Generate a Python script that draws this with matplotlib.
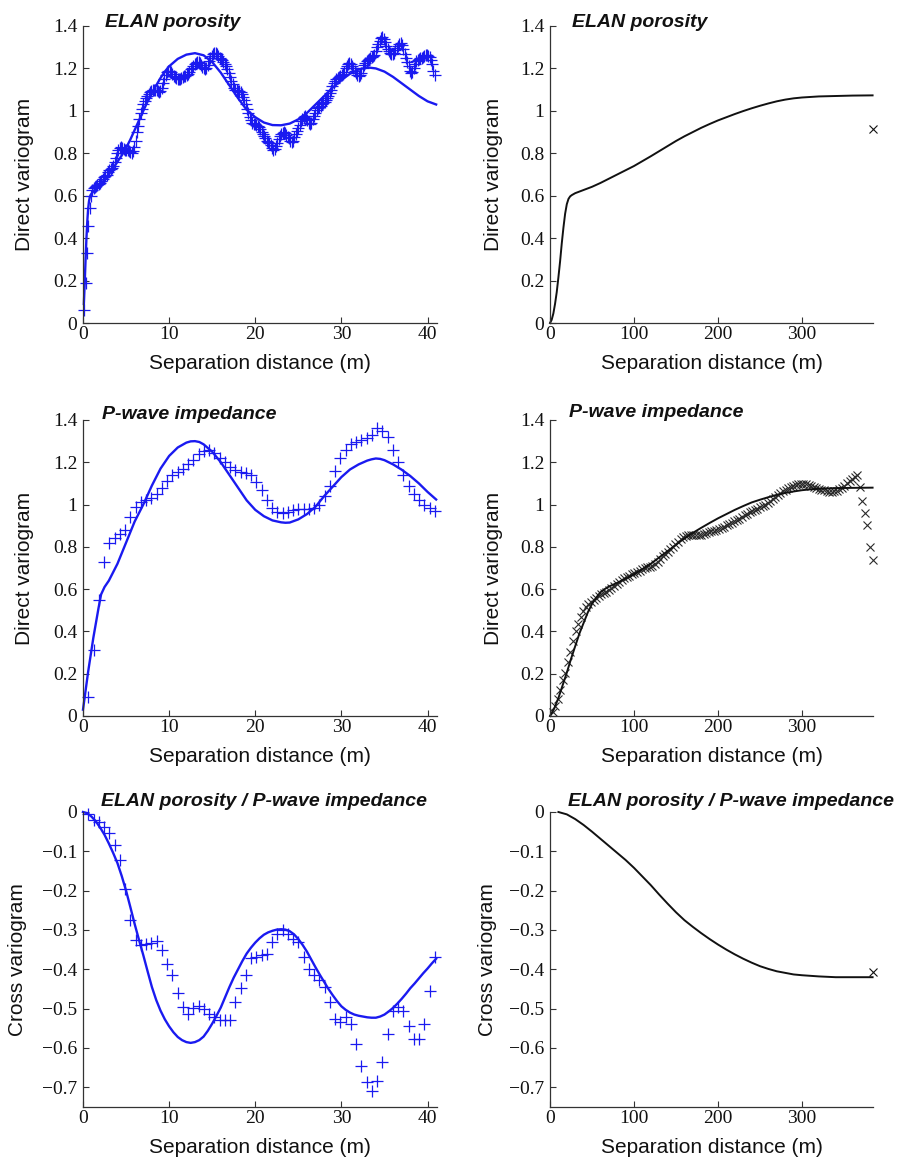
import matplotlib
matplotlib.use('Agg')
import matplotlib.pyplot as plt
import numpy as np

# ---------------- data ----------------
LAG_FINE = 0.1524     # m, ELAN porosity experimental lag (left top)
LAG_LEFT = 0.6096     # m, lag for left middle / bottom experimental points
LAG_RIGHT = 3.048     # m, lag for right column experimental points

# Panel 1: ELAN porosity, direct variogram (left)
elan_exp = [0.06, 0.19, 0.33, 0.455, 0.54, 0.60, 0.625, 0.635, 0.64, 0.645,
            0.65, 0.655, 0.66, 0.67, 0.68, 0.69, 0.695, 0.70, 0.71, 0.72,
            0.725, 0.73, 0.74, 0.76, 0.78, 0.80, 0.815, 0.825, 0.83, 0.825,
            0.82, 0.815, 0.815, 0.815, 0.81, 0.805, 0.80, 0.81, 0.83, 0.86,
            0.90, 0.93, 0.96, 0.99, 1.01, 1.03, 1.045, 1.06, 1.07, 1.08,
            1.09, 1.095, 1.10, 1.10, 1.10, 1.10, 1.095, 1.09, 1.095, 1.11,
            1.13, 1.15, 1.17, 1.185, 1.19, 1.19, 1.185, 1.175, 1.165, 1.16,
            1.155, 1.15, 1.15, 1.15, 1.155, 1.16, 1.165, 1.165, 1.17, 1.175,
            1.185, 1.195, 1.20, 1.21, 1.22, 1.225, 1.23, 1.23, 1.225, 1.215,
            1.205, 1.20, 1.195, 1.20, 1.215, 1.235, 1.25, 1.26, 1.27, 1.275,
            1.275, 1.27, 1.26, 1.25, 1.245, 1.24, 1.23, 1.22, 1.21, 1.195,
            1.18, 1.16, 1.14, 1.125, 1.11, 1.10, 1.10, 1.095, 1.095, 1.09,
            1.08, 1.065, 1.05, 1.03, 1.01, 0.99, 0.97, 0.955, 0.945, 0.94,
            0.94, 0.935, 0.93, 0.925, 0.915, 0.90, 0.89, 0.88, 0.87, 0.86,
            0.855, 0.85, 0.84, 0.825, 0.815, 0.82, 0.835, 0.85, 0.865, 0.88,
            0.89, 0.895, 0.90, 0.895, 0.885, 0.875, 0.87, 0.86, 0.855, 0.86,
            0.875, 0.89, 0.905, 0.92, 0.935, 0.95, 0.96, 0.97, 0.975, 0.965,
            0.955, 0.945, 0.94, 0.945, 0.96, 0.975, 0.99, 1.005, 1.015, 1.02,
            1.025, 1.03, 1.035, 1.04, 1.05, 1.06, 1.07, 1.085, 1.10, 1.115,
            1.13, 1.14, 1.15, 1.155, 1.16, 1.165, 1.17, 1.175, 1.185, 1.20,
            1.21, 1.22, 1.225, 1.22, 1.21, 1.20, 1.19, 1.18, 1.17, 1.165,
            1.17, 1.18, 1.20, 1.215, 1.225, 1.235, 1.24, 1.245, 1.25, 1.255,
            1.26, 1.265, 1.28, 1.30, 1.315, 1.33, 1.345, 1.35, 1.34, 1.325,
            1.305, 1.29, 1.28, 1.275, 1.27, 1.27, 1.275, 1.285, 1.295, 1.305,
            1.315, 1.32, 1.31, 1.29, 1.27, 1.25, 1.23, 1.21, 1.19, 1.18,
            1.185, 1.20, 1.22, 1.235, 1.24, 1.245, 1.25, 1.25, 1.255, 1.26,
            1.265, 1.265, 1.26, 1.255, 1.24, 1.22, 1.19, 1.17]
elan_model_x = [0.1, 0.2, 0.3, 0.4, 0.5, 0.6, 0.7, 0.8, 0.9, 1.0, 1.2, 1.5, 2, 2.5,
                3, 3.5, 4, 4.5, 5, 5.5, 6, 6.5, 7, 7.5, 8, 8.5, 9, 9.5, 10, 11, 12,
                13, 14, 15, 16, 17, 18, 19, 20, 21, 22, 23, 24, 25, 26, 27, 28, 29,
                30, 31, 32, 33, 34, 35, 36, 37, 38, 39, 40, 41]
elan_model_y = [0.09, 0.19, 0.30, 0.40, 0.48, 0.54, 0.575, 0.595, 0.605, 0.61, 0.62,
                0.635, 0.655, 0.675, 0.70, 0.73, 0.76, 0.79, 0.825, 0.865, 0.91,
                0.955, 1.0, 1.045, 1.085, 1.12, 1.155, 1.185, 1.21, 1.245, 1.265,
                1.272, 1.262, 1.23, 1.18, 1.12, 1.06, 1.005, 0.97, 0.945, 0.933,
                0.932, 0.94, 0.96, 0.99, 1.03, 1.07, 1.11, 1.145, 1.175, 1.195,
                1.205, 1.2, 1.185, 1.16, 1.13, 1.1, 1.07, 1.045, 1.03]

# Panel 2: ELAN porosity, direct variogram (right)
elan_r_model_x = [0, 2, 4, 6, 8, 10, 12, 14, 16, 18, 20, 22, 24, 26, 30, 40, 50, 60,
                  70, 80, 90, 100, 110, 120, 130, 140, 150, 160, 170, 180, 190, 200,
                  210, 220, 230, 240, 250, 260, 270, 280, 290, 300, 320, 340, 360, 384]
elan_r_model_y = [0, 0.015, 0.045, 0.09, 0.145, 0.215, 0.29, 0.375, 0.45, 0.515, 0.56,
                  0.585, 0.597, 0.603, 0.612, 0.627, 0.642, 0.66, 0.68, 0.70, 0.72,
                  0.74, 0.763, 0.786, 0.81, 0.834, 0.858, 0.88, 0.90, 0.92, 0.938,
                  0.955, 0.97, 0.985, 0.999, 1.012, 1.024, 1.035, 1.045, 1.053, 1.059,
                  1.063, 1.068, 1.07, 1.072, 1.073]
elan_r_exp_x = [384.05]
elan_r_exp_y = [0.913]

# Panel 3: P-wave impedance, direct variogram (left)
pimp_exp = [0.09, 0.31, 0.55, 0.73, 0.82, 0.84, 0.86, 0.88, 0.94, 0.99,
            1.01, 1.02, 1.03, 1.05, 1.08, 1.11, 1.14, 1.155, 1.17, 1.19,
            1.21, 1.24, 1.255, 1.26, 1.245, 1.22, 1.20, 1.18, 1.165, 1.155,
            1.15, 1.14, 1.105, 1.07, 1.02, 0.985, 0.965, 0.96, 0.965, 0.975,
            0.98, 0.98, 0.98, 0.985, 1.0, 1.04, 1.09, 1.16, 1.22, 1.26,
            1.285, 1.295, 1.305, 1.315, 1.33, 1.36, 1.35, 1.32, 1.26, 1.20,
            1.14, 1.09, 1.05, 1.02, 1.0, 0.985, 0.97]
pimp_model_x = [0, 0.3, 0.6, 0.9, 1.2, 1.5, 1.8, 2.1, 2.5, 3, 3.5, 4, 5, 6, 7, 8, 9,
                10, 11, 12, 12.5, 13, 13.5, 14, 15, 16, 17, 18, 19, 20, 21, 22, 23,
                23.5, 24, 25, 26, 27, 28, 29, 30, 31, 32, 33, 33.5, 34, 34.5, 35, 36,
                37, 38, 39, 40, 41]
pimp_model_y = [0.03, 0.12, 0.21, 0.29, 0.37, 0.44, 0.51, 0.575, 0.61, 0.64, 0.68,
                0.72, 0.82, 0.92, 1.0, 1.09, 1.17, 1.23, 1.27, 1.293, 1.299, 1.30,
                1.296, 1.285, 1.25, 1.2, 1.14, 1.08, 1.02, 0.975, 0.945, 0.925,
                0.916, 0.914, 0.915, 0.93, 0.955, 0.99, 1.04, 1.085, 1.13, 1.166,
                1.19, 1.208, 1.214, 1.218, 1.216, 1.21, 1.19, 1.165, 1.135, 1.1,
                1.06, 1.024]

# Panel 4: P-wave impedance, direct variogram (right)
pimp_r_exp = [0.02, 0.045, 0.08, 0.125, 0.17, 0.205, 0.255, 0.305, 0.355, 0.40,
              0.435, 0.47, 0.495, 0.515, 0.53, 0.54, 0.55, 0.56, 0.568, 0.575,
              0.58, 0.587, 0.597, 0.606, 0.615, 0.625, 0.634, 0.643, 0.652, 0.658,
              0.664, 0.67, 0.675, 0.682, 0.688, 0.694, 0.70, 0.703, 0.706, 0.71,
              0.72, 0.73, 0.742, 0.755, 0.766, 0.778, 0.79, 0.80, 0.813, 0.825,
              0.835, 0.845, 0.852, 0.856, 0.858, 0.857, 0.856, 0.856, 0.858, 0.862,
              0.866, 0.87, 0.873, 0.876, 0.879, 0.885, 0.89, 0.895, 0.902, 0.908,
              0.914, 0.92, 0.926, 0.934, 0.943, 0.95, 0.956, 0.963, 0.969, 0.975,
              0.981, 0.987, 0.993, 1.0, 1.008, 1.017, 1.026, 1.036, 1.045, 1.055,
              1.064, 1.071, 1.078, 1.083, 1.088, 1.092, 1.095, 1.097, 1.098, 1.097,
              1.093, 1.088, 1.082, 1.077, 1.073, 1.07, 1.067, 1.064, 1.061, 1.06,
              1.062, 1.066, 1.072, 1.08, 1.09, 1.10, 1.11, 1.12, 1.13, 1.14,
              1.085, 1.015, 0.96, 0.905, 0.80, 0.74]
pimp_r_model_x = [0, 5, 10, 15, 20, 25, 30, 35, 40, 45, 50, 55, 60, 65, 70, 80, 90,
                  100, 110, 120, 130, 140, 150, 160, 170, 180, 190, 200, 210, 220,
                  230, 240, 250, 260, 270, 280, 290, 300, 310, 320, 340, 360, 384]
pimp_r_model_y = [0, 0.035, 0.085, 0.145, 0.205, 0.27, 0.33, 0.39, 0.44, 0.49, 0.53,
                  0.56, 0.585, 0.60, 0.612, 0.63, 0.65, 0.67, 0.695, 0.72, 0.75, 0.78,
                  0.81, 0.84, 0.866, 0.89, 0.913, 0.935, 0.955, 0.975, 0.993, 1.01,
                  1.023, 1.035, 1.046, 1.055, 1.062, 1.068, 1.072, 1.075, 1.078,
                  1.079, 1.08]

# Panel 5: cross variogram (left)
cross_exp = [-0.006, -0.02, -0.025, -0.037, -0.054, -0.084, -0.122, -0.195, -0.275, -0.326,
             -0.339, -0.335, -0.332, -0.329, -0.352, -0.386, -0.415, -0.46, -0.496, -0.513,
             -0.499, -0.492, -0.50, -0.513, -0.522, -0.53, -0.53, -0.53, -0.483, -0.448,
             -0.414, -0.371, -0.369, -0.364, -0.36, -0.33, -0.309, -0.30, -0.309, -0.322,
             -0.33, -0.369, -0.398, -0.415, -0.428, -0.445, -0.483, -0.526, -0.534, -0.521,
             -0.539, -0.59, -0.645, -0.687, -0.709, -0.683, -0.636, -0.564, -0.505, -0.496,
             -0.505, -0.545, -0.577, -0.577, -0.539, -0.454, -0.369]
cross_model_x = [i * 0.5 for i in range(0, 83)]
cross_model_y = [0, -0.003, -0.012, -0.024, -0.04, -0.058, -0.08, -0.104, -0.13, -0.163,
                 -0.2, -0.242, -0.285, -0.325, -0.364, -0.405, -0.445, -0.478, -0.505,
                 -0.527, -0.545, -0.56, -0.572, -0.58, -0.585, -0.587, -0.585, -0.58,
                 -0.571, -0.556, -0.538, -0.518, -0.497, -0.471, -0.445, -0.421, -0.40,
                 -0.379, -0.36, -0.345, -0.332, -0.321, -0.312, -0.306, -0.302, -0.299,
                 -0.298, -0.299, -0.303, -0.311, -0.323, -0.338, -0.355, -0.375, -0.395,
                 -0.414, -0.432, -0.45, -0.466, -0.481, -0.494, -0.503, -0.51, -0.515,
                 -0.518, -0.52, -0.522, -0.523, -0.523, -0.52, -0.515, -0.507, -0.498,
                 -0.487, -0.475, -0.462, -0.448, -0.436, -0.423, -0.41, -0.398, -0.385,
                 -0.373]

# Panel 6: cross variogram (right)
cross_r_model_x = [10, 20, 30, 40, 50, 60, 70, 80, 90, 100, 110, 120, 130, 140, 150,
                   160, 170, 180, 190, 200, 210, 220, 230, 240, 250, 260, 270, 280,
                   290, 300, 320, 340, 360, 384]
cross_r_model_y = [0, -0.006, -0.018, -0.033, -0.05, -0.068, -0.086, -0.104, -0.122,
                   -0.142, -0.164, -0.186, -0.21, -0.233, -0.255, -0.275, -0.292,
                   -0.308, -0.323, -0.337, -0.35, -0.362, -0.373, -0.383, -0.392,
                   -0.399, -0.405, -0.409, -0.413, -0.415, -0.418, -0.42, -0.42, -0.42]
cross_r_exp_x = [384.05]
cross_r_exp_y = [-0.407]

titles = ['ELAN porosity', 'ELAN porosity', 'P-wave impedance', 'P-wave impedance',
          'ELAN porosity / P-wave impedance', 'ELAN porosity / P-wave impedance']
ylabels = ['Direct variogram', 'Direct variogram', 'Direct variogram', 'Direct variogram',
           'Cross variogram', 'Cross variogram']
xlabel = 'Separation distance (m)'
left_xticks = [0, 10, 20, 30, 40]
right_xticks = [0, 100, 200, 300]
direct_yticks = [0, 0.2, 0.4, 0.6, 0.8, 1.0, 1.2, 1.4]
direct_ylabels = ['0', '0.2', '0.4', '0.6', '0.8', '1', '1.2', '1.4']
cross_yticks = [0, -0.1, -0.2, -0.3, -0.4, -0.5, -0.6, -0.7]
cross_ylabels = ['0', '\u22120.1', '\u22120.2', '\u22120.3', '\u22120.4', '\u22120.5',
                 '\u22120.6', '\u22120.7']

# ---------------- figure ----------------
W, H = 900, 1161
fig = plt.figure(figsize=(W / 100, H / 100), dpi=100)
BLUE = '#1a1af0'
BLACK = '#111111'
SANS = ['Liberation Sans', 'DejaVu Sans']
SERIF = ['Liberation Serif', 'DejaVu Serif']


def add_ax(l, t, r, b):
    return fig.add_axes([l / W, 1 - b / H, (r - l) / W, (b - t) / H])


cols = [(83, 437), (550, 873)]
rows = [(26, 323), (420, 716), (812, 1107)]
axes = []
for (t, b) in rows:
    for (l, r) in cols:
        axes.append(add_ax(l, t, r, b))

title_pos = [(105, 27), (572, 27), (102, 419), (569, 417), (101, 806), (568, 806)]
ylabel_x = [-0.164, -0.176, -0.164, -0.176, -0.184, -0.192]

for i, ax in enumerate(axes):
    left = (i % 2 == 0)
    cross = i >= 4
    for s in ['top', 'right']:
        ax.spines[s].set_visible(False)
    for s in ['left', 'bottom']:
        ax.spines[s].set_linewidth(0.9)
        ax.spines[s].set_color('#333333')
    ax.tick_params(direction='in', length=4, width=0.8, color='#333333', pad=4)
    ax.tick_params(axis='x', pad=2)
    if left:
        ax.set_xlim(0, 41.1)
        ax.set_xticks(left_xticks)
        ax.set_xticklabels([str(v) for v in left_xticks])
    else:
        ax.set_xlim(0, 384.5)
        ax.set_xticks(right_xticks)
        ax.set_xticklabels([str(v) for v in right_xticks])
    if cross:
        ax.set_ylim(-0.75, 0)
        ax.set_yticks(cross_yticks)
        ax.set_yticklabels(cross_ylabels)
    else:
        ax.set_ylim(0, 1.4)
        ax.set_yticks(direct_yticks)
        ax.set_yticklabels(direct_ylabels)
    for lab in ax.get_xticklabels() + ax.get_yticklabels():
        lab.set_family(SERIF)
        lab.set_fontsize(14)
        lab.set_color('#111111')
    ax.set_xlabel(xlabel, family=SANS, fontsize=15, color='#111111')
    ax.xaxis.label.set_va('center')
    ax.xaxis.set_label_coords(0.5, -0.138)
    ax.set_ylabel(ylabels[i], family=SANS, fontsize=15, color='#111111')
    ax.yaxis.label.set_va('center')
    ax.yaxis.set_label_coords(ylabel_x[i], 0.5)
    tx, ty = title_pos[i]
    fig.text(tx / W, 1 - ty / H, titles[i], family=SANS, fontsize=14,
             fontweight='bold', fontstyle='italic', ha='left', va='baseline',
             color='#111111')

# Panel 1
ax = axes[0]
x1 = LAG_FINE * np.arange(1, len(elan_exp) + 1)
ax.plot(x1, elan_exp, linestyle='none', marker='+', ms=8, mew=0.9, color=BLUE, clip_on=False)
ax.plot(elan_model_x, elan_model_y, color=BLUE, lw=1.7, clip_on=False)

# Panel 2
ax = axes[1]
ax.plot(elan_r_model_x, elan_r_model_y, color=BLACK, lw=1.4, clip_on=False)
ax.plot(elan_r_exp_x, elan_r_exp_y, linestyle='none', marker='x', ms=5.5, mew=0.8,
        color=BLACK, clip_on=False)

# Panel 3
ax = axes[2]
x3 = LAG_LEFT * np.arange(1, len(pimp_exp) + 1)
ax.plot(x3, pimp_exp, linestyle='none', marker='+', ms=8.5, mew=0.9, color=BLUE, clip_on=False)
ax.plot(pimp_model_x, pimp_model_y, color=BLUE, lw=1.7, clip_on=False)

# Panel 4
ax = axes[3]
x4 = LAG_RIGHT * np.arange(1, len(pimp_r_exp) + 1)
ax.plot(x4, pimp_r_exp, linestyle='none', marker='x', ms=6, mew=0.8, color='#2a2a2a',
        clip_on=False)
ax.plot(pimp_r_model_x, pimp_r_model_y, color=BLACK, lw=1.4, clip_on=False)

# Panel 5
ax = axes[4]
x5 = LAG_LEFT * np.arange(1, len(cross_exp) + 1)
ax.plot(x5, cross_exp, linestyle='none', marker='+', ms=8.5, mew=0.9, color=BLUE, clip_on=False)
ax.plot(cross_model_x, cross_model_y, color=BLUE, lw=1.7, clip_on=False)

# Panel 6
ax = axes[5]
ax.plot(cross_r_model_x, cross_r_model_y, color=BLACK, lw=1.4, clip_on=False)
ax.plot(cross_r_exp_x, cross_r_exp_y, linestyle='none', marker='x', ms=5.5, mew=0.8,
        color=BLACK, clip_on=False)

fig.savefig('out.png', dpi=100)
